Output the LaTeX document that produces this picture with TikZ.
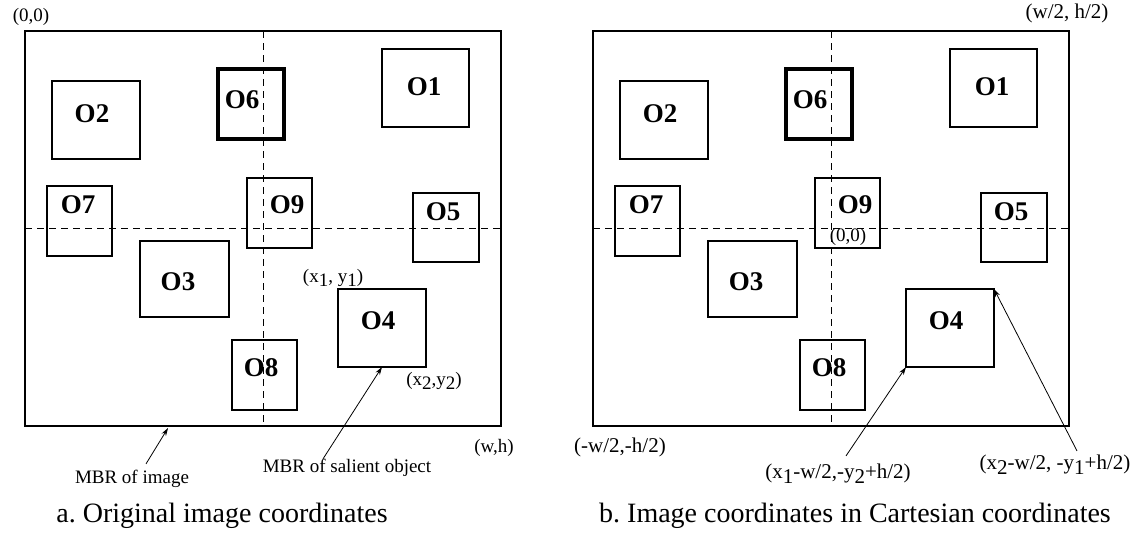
\documentclass[tikz,border=0pt]{standalone}
\usepackage{fontspec}
\setmainfont{Liberation Serif}
\usetikzlibrary{arrows.meta}
\frenchspacing
\begin{document}
\begin{tikzpicture}[x=.5pt, y=-.5pt]
  % Configurations
  \tikzset{
    mbr/.style={draw, line width=1.35pt, inner sep=0pt, outer sep=0pt,
      minimum width=238pt, minimum height=197.5pt},
    objbox/.style={draw, line width=1.3pt, inner sep=0pt, outer sep=0pt},
    objname/.style={font=\fontsize{13.5}{15}\selectfont\bfseries, inner sep=0pt},
    coordlabel/.style={font=\fontsize{9.5}{11}\selectfont, inner sep=0pt},
    bigcoord/.style={font=\fontsize{10.5}{12}\selectfont, inner sep=0pt},
    caption/.style={font=\fontsize{14}{16}\selectfont, inner sep=0pt},
    axis/.style={line width=.5pt, dash pattern=on 3.5pt off 2.5pt},
    pointer/.style={line width=.4pt, -{Stealth[length=4pt, width=2.5pt]}}
  }

  % Lowered index
  \newcommand{\lowsub}[1]{\raisebox{-.5ex}{#1}}
  % Salient object: [style]{name}{cx}{cy}{w}{h}{label x}{label y}{text}
  \newcommand{\salient}[9][]{%
    \node [objbox, minimum width=#5*.5pt, minimum height=#6*.5pt, #1] (#2) at (#3,#4) {};
    \node [objname] (#2-name) at (#7,#8) {#9};
  }
  % One image with its salient objects
  \newcommand{\panel}{%
    \node [mbr] (frame) at (263,228.5) {};
    \draw [axis] (frame.north) -- (frame.south);
    \draw [axis] (frame.west) -- (frame.east);
    \salient{o1}{425.5}{88}{87}{78}{424}{87}{O1}
    \salient{o2}{96}{120}{88}{78}{92}{114}{O2}
    \salient{o3}{184.5}{279}{89}{76}{178}{282}{O3}
    \salient{o4}{382}{328}{88}{78}{378}{321}{O4}
    \salient{o5}{446}{227.5}{66}{69}{443}{212}{O5}
    \salient[line width=2pt]{o6}{251}{104}{66}{70}{242}{100}{O6}
    \salient{o7}{79.5}{221}{65}{70}{78}{205}{O7}
    \salient{o8}{264.5}{375}{65}{70}{261}{368}{O8}
    \salient{o9}{279.5}{213}{65}{70}{287}{205}{O9}
  }

  % Bounding box
  \useasboundingbox (0,0) rectangle (1142,538);

  % a. Original image coordinates
  \begin{scope}[name prefix=a-]
    \panel
  \end{scope}
  \node [coordlabel] (a-origin) at (31,17) {(0,0)};
  \node [coordlabel] (a-corner) at (494,448) {(w,h)};
  \node [coordlabel] (a-topleft) at (333,278) {(x\lowsub{1}, y\lowsub{1})};
  \node [coordlabel] (a-botright) at (434,381) {(x\lowsub{2},y\lowsub{2})};
  \node [coordlabel] (a-mbrimage) at (132,479) {MBR of image};
  \node [coordlabel] (a-mbrsalient) at (347,468) {MBR of salient object};
  \coordinate (a-imghit) at (168,428);
  \draw [pointer] ([xshift=7pt, yshift=3pt]a-mbrimage.north) -- (a-imghit);
  \draw [pointer] ([xshift=-12pt]a-mbrsalient.north) -- (a-o4.south);
  \node [caption] (a-caption) at (222,516) {a. Original image coordinates};

  % b. Image coordinates in Cartesian coordinates
  \begin{scope}[name prefix=b-, shift={(568,0)}]
    \panel
  \end{scope}
  \node [coordlabel] (b-origin) at (848,237) {(0,0)};
  \node [bigcoord] (b-corner) at (1067,13) {(w/2, h/2)};
  \node [bigcoord] (b-oppcorner) at (620,447) {(-w/2,-h/2)};
  \node [bigcoord] (b-lowpt) at (838,474) {(x\lowsub{1}-w/2,-y\lowsub{2}+h/2)};
  \node [bigcoord] (b-highpt) at (1055,465) {(x\lowsub{2}-w/2, -y\lowsub{1}+h/2)};
  \draw [pointer] ([xshift=4pt, yshift=4pt]b-lowpt.north) -- (b-o4.south west);
  \draw [pointer] ([xshift=11pt, yshift=2pt]b-highpt.north) -- (b-o4.north east);
  \node [caption] (b-caption) at (855,516) {b. Image coordinates in Cartesian coordinates};
\end{tikzpicture}
\end{document}
